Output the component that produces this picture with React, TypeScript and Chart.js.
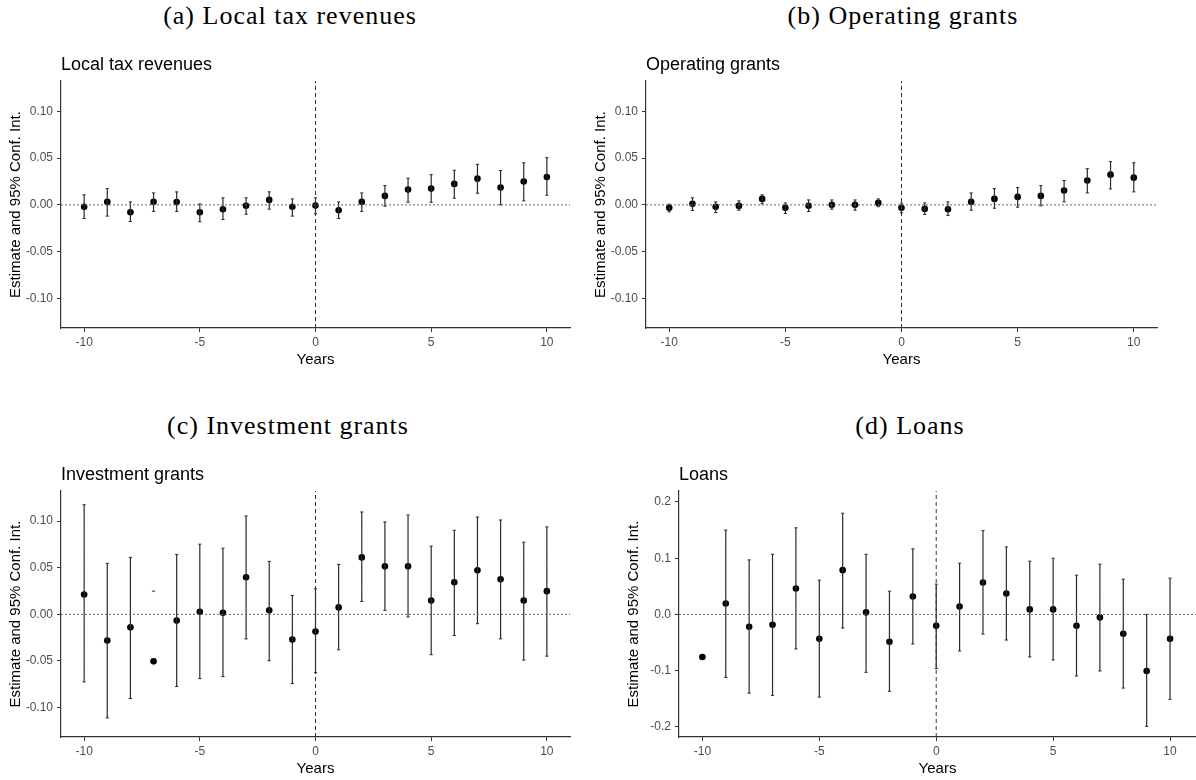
import React, { useEffect, useRef } from "react";
import { Chart, registerables } from "chart.js";

Chart.register(...registerables);

// ---------- data ----------
const YEARS = [-10, -9, -8, -7, -6, -5, -4, -3, -2, -1, 0, 1, 2, 3, 4, 5, 6, 7, 8, 9, 10];

const X_TICKS = [-10, -5, 0, 5, 10];
const X_TICK_LABELS = ["-10", "-5", "0", "5", "10"];
const Y_TICKS_SMALL = [-0.1, -0.05, 0, 0.05, 0.1];
const Y_TICK_LABELS_SMALL = ["-0.10", "-0.05", "0.00", "0.05", "0.10"];
const Y_TICKS_LOANS = [-0.2, -0.1, 0, 0.1, 0.2];
const Y_TICK_LABELS_LOANS = ["-0.2", "-0.1", "0.0", "0.1", "0.2"];

const TAX_EST = [-0.0021, 0.0032, -0.0078, 0.0032, 0.003, -0.0078, -0.0046, -0.001, 0.0053, -0.002, -0.0008, -0.0057, 0.0032, 0.0096, 0.0163, 0.0174, 0.0224, 0.028, 0.0185, 0.0249, 0.0298];
const TAX_LO = [-0.0146, -0.012, -0.0178, -0.007, -0.007, -0.018, -0.0156, -0.01, -0.0046, -0.012, -0.0095, -0.0146, -0.007, -0.0014, 0.0028, 0.0028, 0.0071, 0.0124, 0.0, 0.0043, 0.0103];
const TAX_HI = [0.0107, 0.0174, 0.0032, 0.0128, 0.0139, 0.001, 0.0075, 0.0075, 0.0139, 0.0064, 0.0075, 0.0032, 0.0128, 0.0206, 0.0284, 0.0323, 0.037, 0.0433, 0.0366, 0.045, 0.0504];

const OPS_EST = [-0.0032, 0.0011, -0.0021, -0.0011, 0.0064, -0.0032, -0.001, 0.0, 0.0, 0.0021, -0.0032, -0.0043, -0.0046, 0.0032, 0.0064, 0.0085, 0.0096, 0.0153, 0.026, 0.0323, 0.0291];
const OPS_LO = [-0.0075, -0.006, -0.0082, -0.0057, 0.0011, -0.0092, -0.0071, -0.0046, -0.0057, -0.002, -0.0085, -0.0103, -0.0114, -0.0057, -0.0036, -0.0025, -0.001, 0.0032, 0.0128, 0.017, 0.0139];
const OPS_HI = [0.0007, 0.0075, 0.0032, 0.0043, 0.0107, 0.0021, 0.0053, 0.0053, 0.0053, 0.0064, 0.002, 0.0021, 0.0032, 0.0128, 0.0174, 0.0185, 0.0206, 0.026, 0.0387, 0.0462, 0.045];

const INV_EST = [0.0213, -0.028, -0.0139, -0.0504, -0.0067, 0.0028, 0.0018, 0.0398, 0.0043, -0.027, -0.0185, 0.0075, 0.0611, 0.0515, 0.0515, 0.0149, 0.0345, 0.0472, 0.0377, 0.0149, 0.0249];
const INV_LO = [-0.0725, -0.111, -0.0902, null, -0.0774, -0.0689, -0.0668, -0.0263, -0.0497, -0.0742, -0.0625, -0.038, 0.0139, 0.0043, -0.0028, -0.0433, -0.0227, -0.01, -0.0263, -0.049, -0.0448];
const INV_HI = [0.1176, 0.0547, 0.0611, 0.0249, 0.0643, 0.0753, 0.071, 0.1055, 0.0568, 0.0202, 0.0274, 0.0536, 0.1098, 0.0991, 0.1066, 0.0732, 0.0902, 0.1044, 0.1012, 0.0774, 0.0938];

const LOAN_EST = [-0.0757, 0.0195, -0.0219, -0.0183, 0.0462, -0.0432, 0.0787, 0.0036, -0.0485, 0.032, -0.0201, 0.0142, 0.0568, 0.0373, 0.0089, 0.0089, -0.0201, -0.0053, -0.0343, -0.1006, -0.0432];
const LOAN_LO = [null, -0.112, -0.14, -0.144, -0.0615, -0.147, -0.0243, -0.103, -0.1367, -0.0527, -0.0964, -0.065, -0.035, -0.0456, -0.0757, -0.081, -0.1095, -0.1006, -0.131, -0.199, -0.151];
const LOAN_HI = [null, 0.15, 0.097, 0.107, 0.154, 0.061, 0.18, 0.107, 0.0414, 0.1166, 0.0538, 0.0911, 0.149, 0.12, 0.0947, 0.1, 0.0698, 0.0893, 0.0627, 0.0, 0.0645];

const X_MIN = -11;
const X_MAX = 11;
const X_MAX_LOANS = 11.11;
const Y_MIN_SMALL = -0.1315;
const Y_MAX_SMALL = 0.1323;
const Y_MIN_LOANS = -0.218;
const Y_MAX_LOANS = 0.2195;

const SANS = "'Liberation Sans', Arial, sans-serif";
const SERIF = "'Liberation Serif', 'Times New Roman', serif";

type PanelProps = {
  title: string;
  est: number[];
  lo: (number | null)[];
  hi: (number | null)[];
  yMin: number;
  yMax: number;
  xMax: number;
  yTicks: number[];
  yTickLabels: string[];
  left: number;
  top: number;
  width: number;
  height: number;
  padRight: number;
};

function Panel(p: PanelProps) {
  const ref = useRef<HTMLCanvasElement>(null);
  useEffect(() => {
    if (!ref.current) return;
    const bars: any[] = [];
    const capsLo: any[] = [];
    const capsHi: any[] = [];
    const pts: any[] = [];
    YEARS.forEach((yr, i) => {
      pts.push({ x: yr, y: p.est[i] });
      const l = p.lo[i];
      const h = p.hi[i];
      if (l !== null && h !== null) {
        bars.push({ x: yr, y: l }, { x: yr, y: h }, { x: yr, y: null });
      }
      if (l !== null) capsLo.push({ x: yr, y: l });
      if (h !== null) capsHi.push({ x: yr, y: h });
    });
    const barColor = "#2b2b2b";
    const chart = new Chart(ref.current, {
      type: "scatter",
      data: {
        datasets: [
          {
            type: "line",
            data: [{ x: X_MIN, y: 0 }, { x: p.xMax, y: 0 }],
            borderColor: "#666",
            borderWidth: 1,
            borderDash: [2, 2],
            pointRadius: 0,
          } as any,
          {
            type: "line",
            data: [{ x: 0, y: p.yMin }, { x: 0, y: p.yMax }],
            borderColor: "#333",
            borderWidth: 1,
            borderDash: [4, 3],
            pointRadius: 0,
          } as any,
          {
            type: "line",
            data: bars,
            borderColor: barColor,
            borderWidth: 1.2,
            pointRadius: 0,
            spanGaps: false,
          } as any,
          {
            data: capsLo,
            pointStyle: "line",
            pointRadius: 1.6,
            borderColor: barColor,
            borderWidth: 1,
          } as any,
          {
            data: capsHi,
            pointStyle: "line",
            pointRadius: 1.6,
            borderColor: barColor,
            borderWidth: 1,
          } as any,
          {
            data: pts,
            pointRadius: 3.3,
            backgroundColor: "#000",
            borderWidth: 0,
          } as any,
        ],
      },
      options: {
        responsive: false,
        animation: false,
        events: [],
        layout: { autoPadding: false, padding: { left: 0, right: p.padRight, top: 0, bottom: 0 } },
        plugins: {
          legend: { display: false },
          tooltip: { enabled: false },
          title: {
            display: true,
            text: p.title,
            align: "start",
            fullSize: false,
            color: "#000",
            font: { family: SANS, size: 18, weight: "normal" as any },
            padding: { top: 14.7, bottom: 4.7 },
          },
        },
        scales: {
          x: {
            type: "linear",
            min: X_MIN,
            max: p.xMax,
            afterBuildTicks: (s: any) => {
              s.ticks = X_TICKS.map((v) => ({ value: v }));
            },
            afterFit: (s: any) => {
              s.height = 41;
            },
            ticks: {
              callback: (_v: any, i: number) => X_TICK_LABELS[i],
              font: { family: SANS, size: 12 },
              color: "#4d4d4d",
              padding: 3,
              maxRotation: 0,
              autoSkip: false,
            },
            grid: { drawOnChartArea: false, drawTicks: true, tickLength: 4, color: "#333" },
            border: { display: true, color: "#333", width: 1.2 },
            title: {
              display: true,
              text: "Years",
              color: "#000",
              font: { family: SANS, size: 15 },
              padding: { top: 0, bottom: 0 },
            },
          },
          y: {
            type: "linear",
            min: p.yMin,
            max: p.yMax,
            afterBuildTicks: (s: any) => {
              s.ticks = p.yTicks.map((v) => ({ value: v }));
            },
            afterFit: (s: any) => {
              s.width = 61;
            },
            ticks: {
              callback: (_v: any, i: number) => p.yTickLabels[i],
              font: { family: SANS, size: 12 },
              color: "#4d4d4d",
              padding: 4,
              autoSkip: false,
            },
            grid: { drawOnChartArea: false, drawTicks: true, tickLength: 4, color: "#333" },
            border: { display: true, color: "#333", width: 1.2 },
            title: {
              display: true,
              text: "Estimate and 95% Conf. Int.",
              color: "#000",
              font: { family: SANS, size: 15 },
              padding: { top: 7, bottom: 0 },
            },
          },
        },
      } as any,
    });
    return () => chart.destroy();
  }, []);
  return (
    <canvas
      ref={ref}
      width={p.width}
      height={p.height}
      style={{ position: "absolute", left: p.left, top: p.top, width: p.width, height: p.height }}
    />
  );
}

function Caption({ text, center, top }: { text: string; center: number; top: number }) {
  return (
    <div
      style={{
        position: "absolute",
        left: center - 300,
        top,
        width: 600,
        textAlign: "center",
        fontFamily: SERIF,
        fontSize: 26,
        lineHeight: "30px",
        letterSpacing: "1px",
        color: "#000",
        whiteSpace: "nowrap",
      }}
    >
      {text}
    </div>
  );
}

export default function App() {
  return (
    <div
      style={{
        position: "fixed",
        left: 0,
        top: 0,
        width: 1196,
        height: 780,
        background: "#fff",
        overflow: "hidden",
      }}
    >
      <Caption text="(a) Local tax revenues" center={290} top={1} />
      <Caption text="(b) Operating grants" center={903} top={1} />
      <Caption text="(c) Investment grants" center={288} top={411} />
      <Caption text="(d) Loans" center={910} top={411} />
      <Panel
        title="Local tax revenues"
        est={TAX_EST}
        lo={TAX_LO}
        hi={TAX_HI}
        yMin={Y_MIN_SMALL}
        yMax={Y_MAX_SMALL}
        xMax={X_MAX}
        yTicks={Y_TICKS_SMALL}
        yTickLabels={Y_TICK_LABELS_SMALL}
        left={0}
        top={40}
        width={590}
        height={329}
        padRight={20}
      />
      <Panel
        title="Operating grants"
        est={OPS_EST}
        lo={OPS_LO}
        hi={OPS_HI}
        yMin={Y_MIN_SMALL}
        yMax={Y_MAX_SMALL}
        xMax={X_MAX}
        yTicks={Y_TICKS_SMALL}
        yTickLabels={Y_TICK_LABELS_SMALL}
        left={585}
        top={40}
        width={592}
        height={329}
        padRight={20}
      />
      <Panel
        title="Investment grants"
        est={INV_EST}
        lo={INV_LO}
        hi={INV_HI}
        yMin={Y_MIN_SMALL}
        yMax={Y_MAX_SMALL}
        xMax={X_MAX}
        yTicks={Y_TICKS_SMALL}
        yTickLabels={Y_TICK_LABELS_SMALL}
        left={0}
        top={450}
        width={590}
        height={328}
        padRight={20}
      />
      <Panel
        title="Loans"
        est={LOAN_EST}
        lo={LOAN_LO}
        hi={LOAN_HI}
        yMin={Y_MIN_LOANS}
        yMax={Y_MAX_LOANS}
        xMax={X_MAX_LOANS}
        yTicks={Y_TICKS_LOANS}
        yTickLabels={Y_TICK_LABELS_LOANS}
        left={618}
        top={450}
        width={578}
        height={328}
        padRight={0}
      />
    </div>
  );
}
